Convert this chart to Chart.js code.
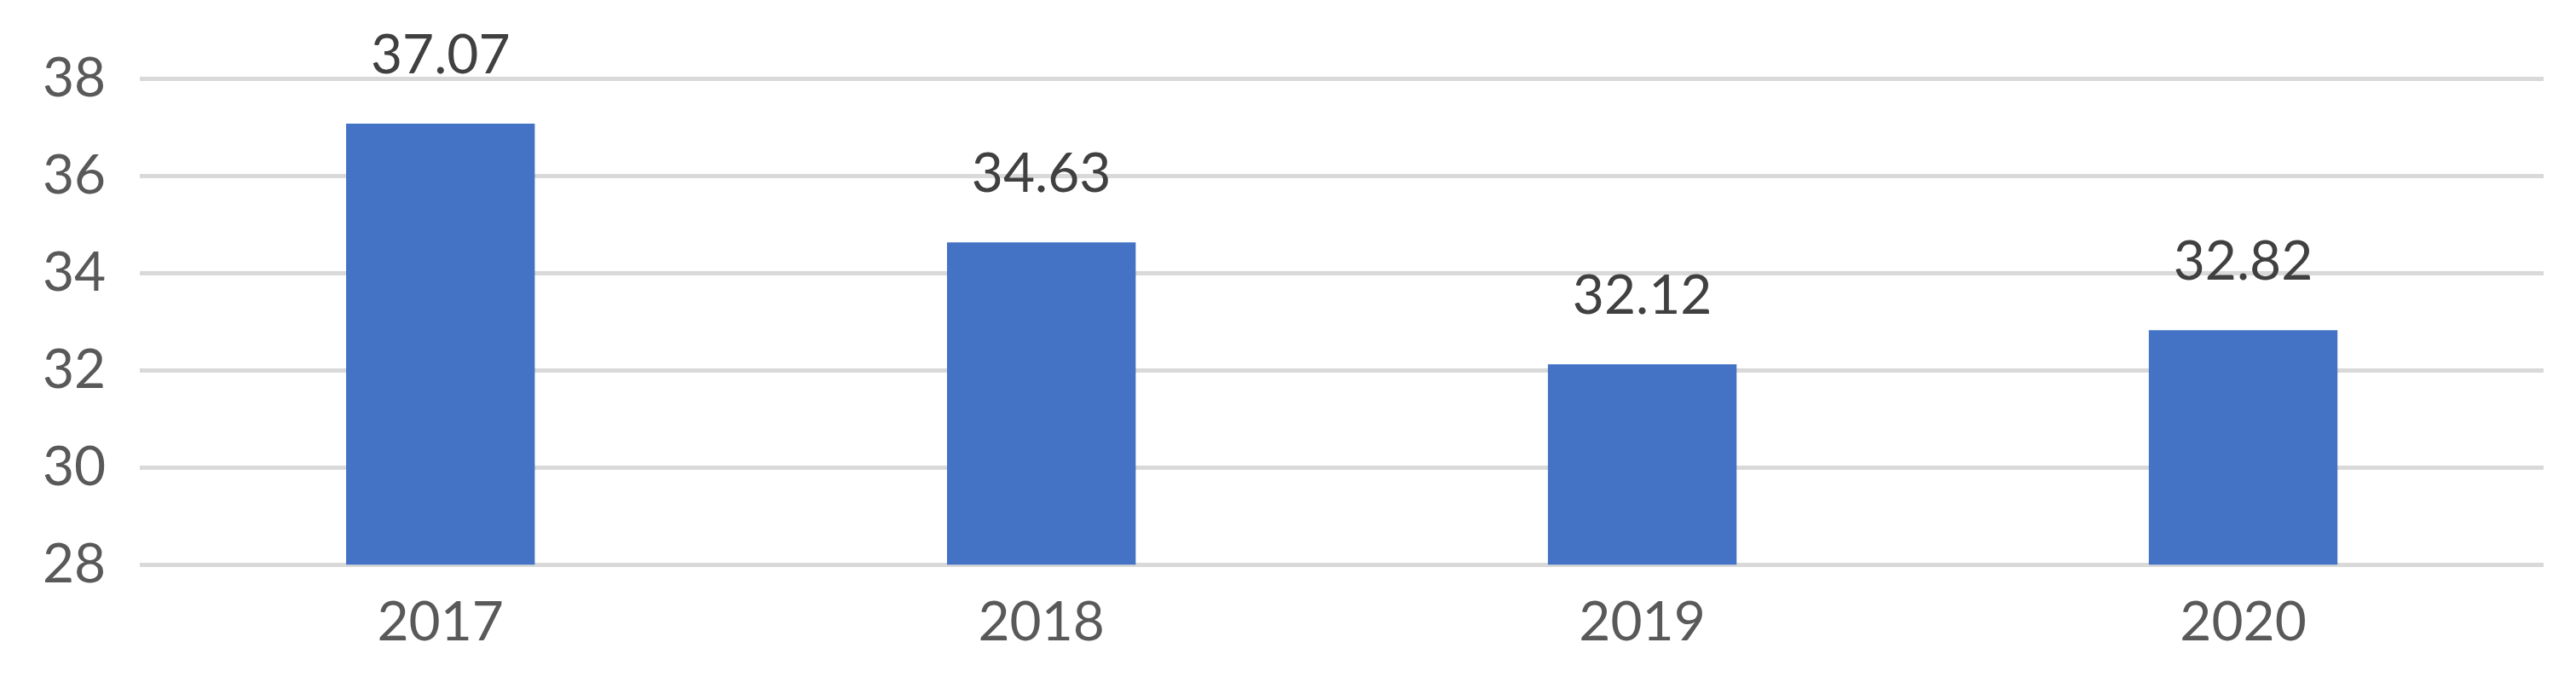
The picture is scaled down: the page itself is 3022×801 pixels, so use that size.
<!DOCTYPE html>
<html>
<head>
<meta charset="utf-8">
<script src="https://cdn.jsdelivr.net/npm/chart.js@4"></script>
<style>
html, body { margin: 0; padding: 0; background: #fff; }
#wrap { width: 3022px; height: 801px; }
</style>
</head>
<body>
<div id="wrap"><canvas id="myChart"></canvas></div>
<script>
var years = ["2017", "2018", "2019", "2020"];
var values = [37.07, 34.63, 32.12, 32.82];
var yTicks = [28, 30, 32, 34, 36, 38];

var valueLabels = {
    id: 'valueLabels',
    afterDatasetsDraw: function (chart) {
        var c = chart.ctx;
        var meta = chart.getDatasetMeta(0);
        c.save();
        c.font = '64px Lato';
        c.fillStyle = '#404040';
        c.textAlign = 'center';
        c.textBaseline = 'middle';
        meta.data.forEach(function (bar, i) {
            var y = Math.max(bar.y - 80, 40);
            c.fillText(values[i].toFixed(2), bar.x, y);
        });
        c.restore();
    }
};

var ctx = document.getElementById("myChart").getContext('2d');
var myChart = new Chart(ctx, {
    type: 'bar',
    data: {
        labels: years,
        datasets: [{
            data: values,
            backgroundColor: '#4472C4',
            categoryPercentage: 1,
            barPercentage: 0.314
        }]
    },
    options: {
        responsive: true,
        maintainAspectRatio: false,
        animation: false,
        layout: { padding: { top: 92, right: 38, left: 10, bottom: 10 } },
        plugins: { legend: { display: false }, tooltip: { enabled: false } },
        scales: {
            x: {
                grid: { display: false },
                border: { display: false },
                ticks: { color: '#595959', font: { family: 'Lato', size: 64 }, padding: 22 }
            },
            y: {
                min: 28,
                max: 38,
                afterBuildTicks: function (axis) {
                    axis.ticks = yTicks.map(function (v) { return { value: v }; });
                },
                grid: { color: '#d9d9d9', lineWidth: 5, drawTicks: false },
                border: { display: false },
                ticks: { color: '#595959', font: { family: 'Lato', size: 64 }, padding: 40 }
            }
        }
    },
    plugins: [valueLabels]
});
</script>
</body>
</html>
